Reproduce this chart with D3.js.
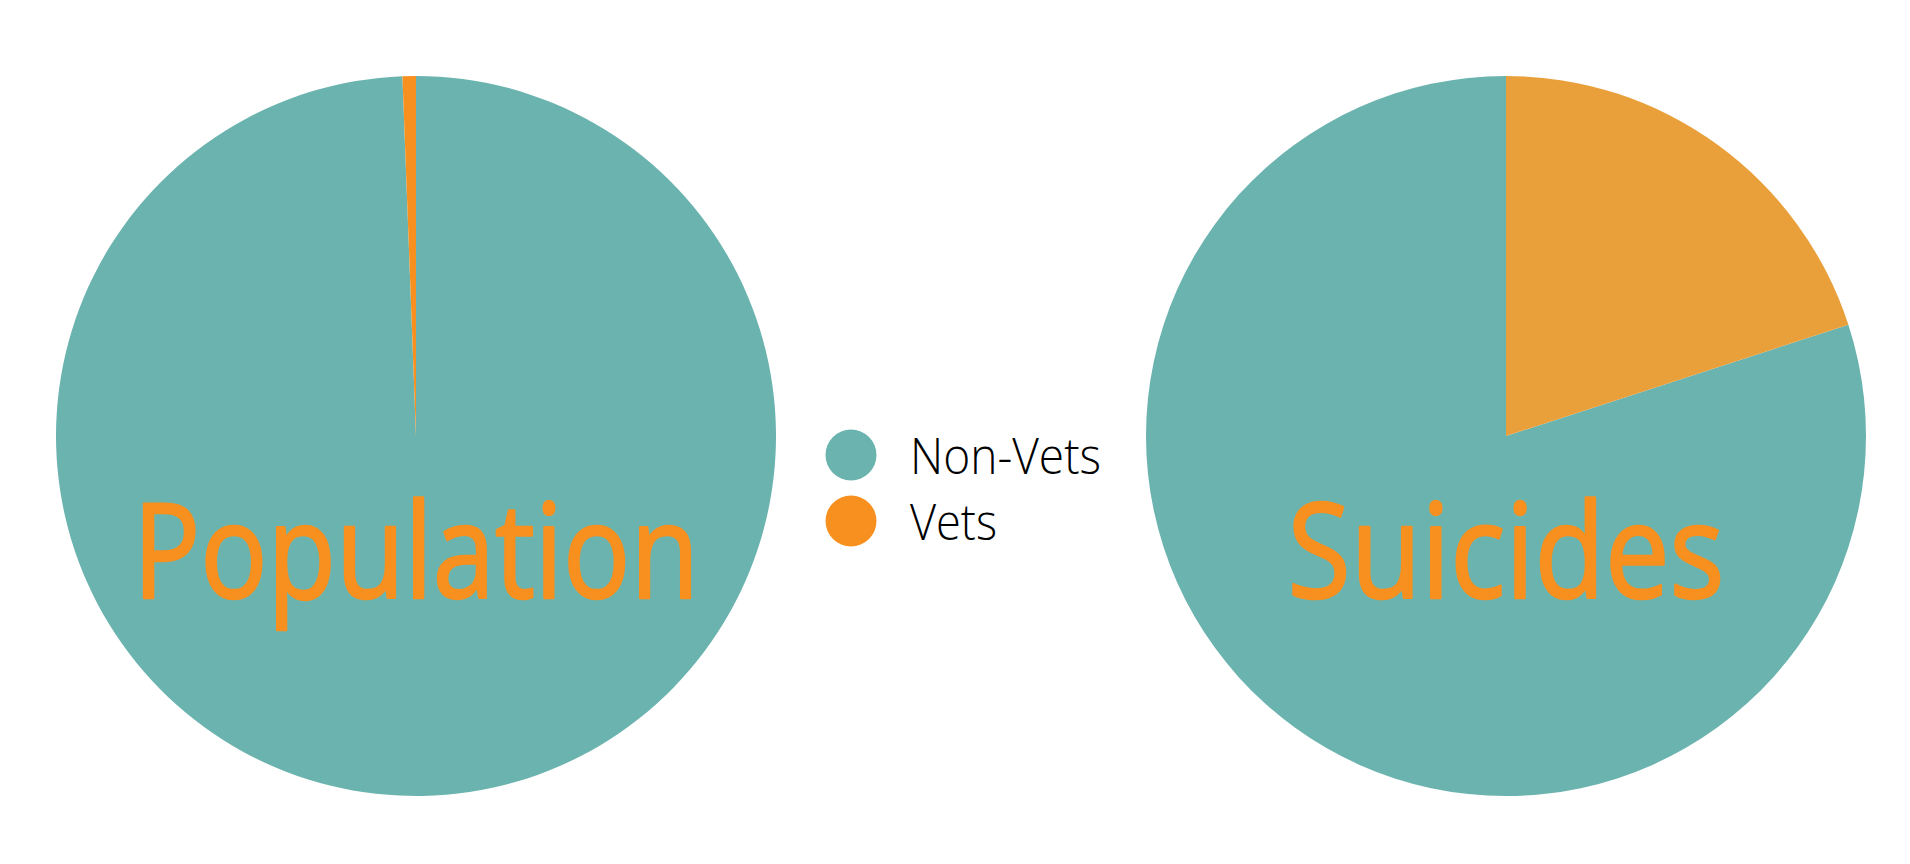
<!DOCTYPE html>
<html>
<head>
<meta charset="utf-8">
<script src="https://cdn.jsdelivr.net/npm/d3@7"></script>
<style>
  html, body { margin: 0; padding: 0; background: #fff; }
  svg { display: block; }
</style>
</head>
<body>
<div id="chart"></div>
<script>
// ---------------------------------------------
// DATA
// ---------------------------------------------
const categories     = ["Non-Vets", "Vets"];
const chartTitles    = ["Population", "Suicides"];
const populationShare = [99.4, 0.6];   // % of population
const suicideShare    = [80, 20];      // % of suicides

// ---------------------------------------------
// LAYOUT / STYLE
// ---------------------------------------------
const W = 1910, H = 864;
const radius = 360;
const pieCY = 436;
const TEAL = "#6bb3af";
const ORANGE = "#f7901e";
const ORANGE_SOFT = "#e9a03a";

const charts = [
  { title: chartTitles[0], values: populationShare, cx: 416,  reverse: false,
    colors: [TEAL, ORANGE], titleWidth: 566 },
  { title: chartTitles[1], values: suicideShare,    cx: 1506, reverse: true,
    colors: [TEAL, ORANGE_SOFT], titleWidth: 437 }
];

const svg = d3.select("#chart").append("svg")
  .attr("width", W)
  .attr("height", H);

svg.append("rect").attr("width", W).attr("height", H).attr("fill", "#fff");

const arc = d3.arc().innerRadius(0).outerRadius(radius);

// ---------------------------------------------
// PIES
// ---------------------------------------------
charts.forEach(c => {
  const rows = categories.map((cat, i) => ({ cat, value: c.values[i], color: c.colors[i] }));

  const pie = d3.pie()
    .value(d => d.value)
    .sort(c.reverse
      ? (a, b) => categories.indexOf(b.cat) - categories.indexOf(a.cat)
      : null);

  const g = svg.append("g")
    .attr("transform", `translate(${c.cx},${pieCY})`);

  g.selectAll("path")
    .data(pie(rows))
    .join("path")
    .attr("d", arc)
    .attr("fill", d => d.data.color);

  // title, a little stroke to thicken the stems
  g.append("text")
    .attr("x", 0)
    .attr("y", 162)
    .attr("text-anchor", "middle")
    .attr("font-family", "'Open Sans', sans-serif")
    .attr("font-size", 132)
    .attr("fill", ORANGE)
    .attr("stroke", ORANGE)
    .attr("stroke-width", 2.5)
    .attr("stroke-linejoin", "round")
    .attr("textLength", c.titleWidth)
    .attr("lengthAdjust", "spacingAndGlyphs")
    .text(c.title);
});

// ---------------------------------------------
// LEGEND
// ---------------------------------------------
const legendY = d3.scalePoint()
  .domain(categories)
  .range([455, 521]);

const legendColor = d3.scaleOrdinal()
  .domain(categories)
  .range([TEAL, ORANGE]);

const legendWidths = { "Non-Vets": 191, "Vets": 87 };

const legend = svg.append("g").attr("class", "legend");

const item = legend.selectAll("g")
  .data(categories)
  .join("g")
  .attr("transform", d => `translate(0,${legendY(d)})`);

item.append("circle")
  .attr("cx", 851)
  .attr("cy", 0)
  .attr("r", 25.5)
  .attr("fill", d => legendColor(d));

item.append("text")
  .attr("x", 910)
  .attr("y", 18.5)
  .attr("font-family", "'Open Sans', sans-serif")
  .attr("font-weight", 300)
  .attr("font-size", 50)
  .attr("fill", "#000")
  .attr("textLength", d => legendWidths[d])
  .attr("lengthAdjust", "spacingAndGlyphs")
  .text(d => d);
</script>
</body>
</html>
